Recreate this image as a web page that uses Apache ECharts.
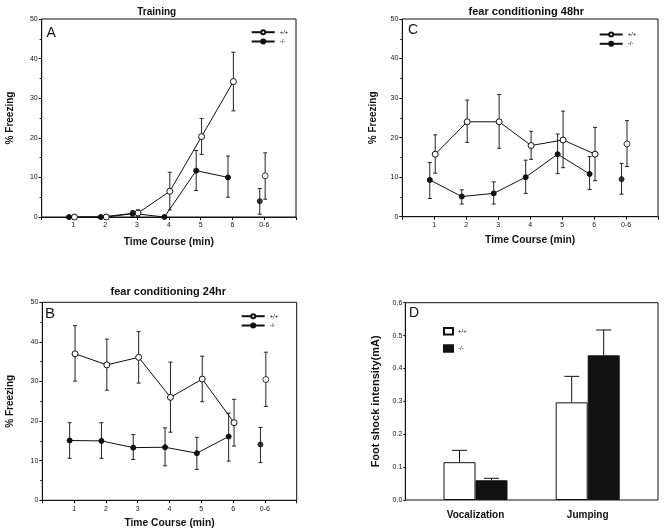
<!DOCTYPE html>
<html>
<head>
<meta charset="utf-8">
<script src="https://cdn.jsdelivr.net/npm/echarts@6/dist/echarts.min.js"></script>
<style>
html,body{margin:0;padding:0;background:#fff;}
#chart{width:666px;height:531px;}
</style>
</head>
<body>
<div id="chart"></div>
<script>
// ---------- DATA ----------
const timeCats = ['1', '2', '3', '4', '5', '6', '0-6'];

// Panel A: Training
const wtA   = [0, 0, 1.0, 6.5, 20.3, 34.2, 10.4];
const wtAhi = [0, 0, 1.8, 11.3, 24.9, 41.6, 16.2];
const wtAlo = [0, 0, 0.2, 1.8, 15.8, 26.8, 4.5];
const koA   = [0, 0, 0.9, 0, 11.7, 10.0, 4.0];
const koAhi = [0, 0, 1.6, 0, 16.8, 15.4, 7.2];
const koAlo = [0, 0, 0.2, 0, 6.7, 5.0, 0.7];

// Panel B: fear conditioning 24hr
const wtB   = [37.0, 34.2, 36.1, 26.0, 30.6, 19.6, 30.5];
const wtBhi = [44.1, 40.7, 42.6, 34.9, 36.4, 25.5, 37.4];
const wtBlo = [30.1, 27.8, 29.6, 17.2, 24.9, 13.7, 23.7];
const koB   = [15.1, 15.0, 13.3, 13.4, 11.9, 16.1, 14.1];
const koBhi = [19.6, 19.6, 16.6, 18.3, 15.9, 22.0, 18.4];
const koBlo = [10.6, 10.6, 10.3, 8.7, 7.8, 9.9, 9.5];

// Panel C: fear conditioning 48hr
const wtC   = [15.8, 24.0, 24.0, 18.0, 19.4, 15.8, 18.4];
const wtChi = [20.7, 29.5, 30.9, 21.6, 26.7, 22.6, 24.3];
const wtClo = [11.0, 18.8, 17.3, 14.5, 12.4, 9.1, 12.7];
const koC   = [9.3, 5.1, 5.9, 10.0, 15.8, 10.8, 9.5];
const koChi = [13.7, 6.8, 8.8, 14.3, 20.9, 15.2, 13.5];
const koClo = [4.6, 3.2, 3.2, 5.9, 10.9, 6.9, 5.7];

// Panel D: foot shock intensity
const shockCats = ['Vocalization', 'Jumping'];
const wtD   = [0.115, 0.297];
const wtDhi = [0.151, 0.376];
const koD   = [0.060, 0.440];
const koDhi = [0.066, 0.517];

const freezeTicks = [0, 10, 20, 30, 40, 50];
const shockTicks = [0, 0.1, 0.2, 0.3, 0.4, 0.5, 0.6];

// ---------- STYLE / LAYOUT ----------
const FONT = 'Liberation Sans, Arial, sans-serif';
const OFF_WT = 0.03, OFF_KO = -0.14;
const grids = [
  {left: 41.7, top: 19, width: 254.3, height: 198},     // A
  {left: 402.3, top: 19, width: 255.7, height: 197.7},  // C
  {left: 42.3, top: 302.3, width: 254.4, height: 198},  // B
  {left: 405.3, top: 302.7, width: 252.7, height: 197.3}, // D box
  {left: 419.4, top: 302.7, width: 224.4, height: 197.3}  // D bars
];
grids.forEach(g => { g.show = true; g.borderColor = '#111'; g.borderWidth = 1; g.backgroundColor = 'transparent'; });
grids[4].show = false;

function timeXAxis(gi, gap) {
  return {
    gridIndex: gi, type: 'value', min: 0, max: 8, interval: 1,
    name: 'Time Course (min)', nameLocation: 'middle', nameGap: gap,
    nameTextStyle: {fontFamily: FONT, fontWeight: 'bold', fontSize: 10.3, color: '#111'},
    axisLine: {show: true, lineStyle: {color: '#111'}},
    axisTick: {show: true, length: 3, lineStyle: {color: '#111'}},
    axisLabel: {fontFamily: FONT, fontSize: 7, color: '#111', margin: 5,
      formatter: v => (v >= 1 && v <= timeCats.length) ? timeCats[v - 1] : ''},
    splitLine: {show: false}
  };
}
function freezeYAxis(gi, gap) {
  return {
    gridIndex: gi, type: 'value', min: freezeTicks[0], max: freezeTicks[freezeTicks.length - 1], interval: 10,
    name: '% Freezing', nameLocation: 'middle', nameGap: gap, nameRotate: 90,
    nameTextStyle: {fontFamily: FONT, fontWeight: 'bold', fontSize: 10, color: '#111'},
    axisLine: {show: true, lineStyle: {color: '#111'}},
    axisTick: {show: true, length: 3, lineStyle: {color: '#111'}},
    minorTick: {show: true, splitNumber: 2, length: 2, lineStyle: {color: '#111'}},
    axisLabel: {fontFamily: FONT, fontSize: 7, color: '#111', margin: 4},
    splitLine: {show: false}
  };
}

function pts(vals, off, n) { return vals.slice(0, n).map((v, i) => [i + 1 + off, v]); }
function errData(lo, hi, off) { return lo.map((l, i) => [i + 1 + off, l, hi[i]]); }

function errRender(capHalf) {
  return function (params, api) {
    const x = api.value(0);
    const p1 = api.coord([x, api.value(1)]);
    const p2 = api.coord([x, api.value(2)]);
    const st = {stroke: '#222', lineWidth: 1};
    return {type: 'group', children: [
      {type: 'line', shape: {x1: p1[0], y1: p1[1], x2: p2[0], y2: p2[1]}, style: st},
      {type: 'line', shape: {x1: p1[0] - capHalf, y1: p1[1], x2: p1[0] + capHalf, y2: p1[1]}, style: st},
      {type: 'line', shape: {x1: p2[0] - capHalf, y1: p2[1], x2: p2[0] + capHalf, y2: p2[1]}, style: st}
    ]};
  };
}

const wtStyle = {color: '#fff', borderColor: '#111', borderWidth: 1};
const koStyle = {color: '#111', borderColor: '#111', borderWidth: 1};

function panelSeries(gi, wt, wtlo, wthi, ko, kolo, kohi) {
  const n = timeCats.length;
  return [
    {type: 'custom', name: 'errWT' + gi, xAxisIndex: gi, yAxisIndex: gi, renderItem: errRender(2), data: errData(wtlo, wthi, OFF_WT), z: 1, silent: true},
    {type: 'custom', name: 'errKO' + gi, xAxisIndex: gi, yAxisIndex: gi, renderItem: errRender(2), data: errData(kolo, kohi, OFF_KO), z: 1, silent: true},
    {type: 'line', name: 'wt', xAxisIndex: gi, yAxisIndex: gi, data: pts(wt, OFF_WT, n - 1),
      symbol: 'circle', symbolSize: 6, showAllSymbol: true, itemStyle: wtStyle, lineStyle: {color: '#111', width: 1}, z: 3, animation: false},
    {type: 'line', name: 'ko', xAxisIndex: gi, yAxisIndex: gi, data: pts(ko, OFF_KO, n - 1),
      symbol: 'circle', symbolSize: 5, showAllSymbol: true, itemStyle: koStyle, lineStyle: {color: '#111', width: 1}, z: 3, animation: false},
    {type: 'scatter', name: 'wt06_' + gi, xAxisIndex: gi, yAxisIndex: gi, data: [[n + OFF_WT, wt[n - 1]]],
      symbol: 'circle', symbolSize: 6, itemStyle: wtStyle, z: 3},
    {type: 'scatter', name: 'ko06_' + gi, xAxisIndex: gi, yAxisIndex: gi, data: [[n + OFF_KO, ko[n - 1]]],
      symbol: 'circle', symbolSize: 5, itemStyle: koStyle, z: 3}
  ];
}

function lineLegend(left, top) {
  return {
    data: ['wt', 'ko'], orient: 'vertical', left: left, top: top,
    itemWidth: 23, itemHeight: 5, itemGap: 3.3, padding: 0, selectedMode: false,
    textStyle: {fontFamily: FONT, fontSize: 6, color: '#111'},
    formatter: nm => nm === 'wt' ? '+/+' : '-/-'
  };
}

const series = [].concat(
  panelSeries(0, wtA, wtAlo, wtAhi, koA, koAlo, koAhi),
  panelSeries(1, wtC, wtClo, wtChi, koC, koClo, koChi),
  panelSeries(2, wtB, wtBlo, wtBhi, koB, koBlo, koBhi)
);

const BAR_W = 32;
series.push(
  {type: 'bar', name: 'wtBar', xAxisIndex: 4, yAxisIndex: 4, data: wtD, barWidth: BAR_W, barGap: '0%',
    itemStyle: {color: '#fff', borderColor: '#111', borderWidth: 1}, z: 2},
  {type: 'bar', name: 'koBar', xAxisIndex: 4, yAxisIndex: 4, data: koD, barWidth: BAR_W, barGap: '0%',
    itemStyle: {color: '#111', borderColor: '#111', borderWidth: 1}, z: 2},
  {type: 'custom', name: 'errBar', xAxisIndex: 4, yAxisIndex: 4, z: 1, silent: true,
    data: shockCats.flatMap((c, i) => [[i, wtD[i], wtDhi[i], -1], [i, koD[i], koDhi[i], 1]]),
    renderItem: function (params, api) {
      const side = api.value(3);
      const p1 = api.coord([api.value(0), api.value(1)]);
      const p2 = api.coord([api.value(0), api.value(2)]);
      const x = p1[0] + side * BAR_W / 2;
      const st = {stroke: '#111', lineWidth: 1};
      return {type: 'group', children: [
        {type: 'line', shape: {x1: x, y1: p1[1], x2: x, y2: p2[1]}, style: st},
        {type: 'line', shape: {x1: x - 7.5, y1: p2[1], x2: x + 7.5, y2: p2[1]}, style: st}
      ]};
    }}
);

const option = {
  backgroundColor: '#fff',
  animation: false,
  grid: grids,
  xAxis: [
    timeXAxis(0, 20),
    timeXAxis(1, 18),
    timeXAxis(2, 17.5),
    {gridIndex: 3, type: 'value', min: 0, max: 1, show: false},
    {gridIndex: 4, type: 'category', data: shockCats,
      axisLine: {show: false}, axisTick: {show: false},
      axisLabel: {fontFamily: FONT, fontWeight: 'bold', fontSize: 10, color: '#111', margin: 10}}
  ],
  yAxis: [
    freezeYAxis(0, 26),
    freezeYAxis(1, 24),
    freezeYAxis(2, 27),
    {gridIndex: 3, type: 'value', min: 0, max: 0.6, interval: 0.1,
      name: 'Foot shock intensity(mA)', nameLocation: 'middle', nameGap: 24, nameRotate: 90,
      nameTextStyle: {fontFamily: FONT, fontWeight: 'bold', fontSize: 11, color: '#111'},
      axisLine: {show: true, lineStyle: {color: '#111'}},
      axisTick: {show: true, length: 2, lineStyle: {color: '#111'}},
      axisLabel: {fontFamily: FONT, fontSize: 7, color: '#111', margin: 3, formatter: v => v.toFixed(1)},
      splitLine: {show: false}},
    {gridIndex: 4, type: 'value', min: 0, max: 0.6, show: false}
  ],
  legend: [
    lineLegend(250.7, 29.2),
    lineLegend(598.7, 31.5),
    lineLegend(240.7, 313.2),
    {data: [{name: 'wtBar', icon: 'rect'}, {name: 'koBar', icon: 'rect'}], orient: 'vertical', left: 443, top: 327, padding: 0,
      itemWidth: 9, itemHeight: 6.5, itemGap: 8.7, selectedMode: false,
      textStyle: {fontFamily: FONT, fontSize: 6, color: '#111'},
      formatter: nm => nm === 'wtBar' ? '+/+' : '-/-'}
  ],
  graphic: [
    {type: 'text', x: 156.7, y: 12.3, style: {text: 'Training', font: 'bold 10px ' + FONT, fill: '#111', textAlign: 'center', textVerticalAlign: 'middle'}},
    {type: 'text', x: 526.3, y: 11.7, style: {text: 'fear conditioning 48hr', font: 'bold 11px ' + FONT, fill: '#111', textAlign: 'center', textVerticalAlign: 'middle'}},
    {type: 'text', x: 168.3, y: 291.7, style: {text: 'fear conditioning 24hr', font: 'bold 11px ' + FONT, fill: '#111', textAlign: 'center', textVerticalAlign: 'middle'}},
    {type: 'text', x: 46.5, y: 33, style: {text: 'A', font: '14px ' + FONT, fill: '#111', textVerticalAlign: 'middle'}},
    {type: 'text', x: 408, y: 30, style: {text: 'C', font: '14px ' + FONT, fill: '#111', textVerticalAlign: 'middle'}},
    {type: 'text', x: 45, y: 314, style: {text: 'B', font: '15px ' + FONT, fill: '#111', textVerticalAlign: 'middle'}},
    {type: 'text', x: 409, y: 313, style: {text: 'D', font: '14px ' + FONT, fill: '#111', textVerticalAlign: 'middle'}}
  ],
  series: series
};

const chart = echarts.init(document.getElementById('chart'), null, {renderer: 'canvas'});
chart.setOption(option);
</script>
</body>
</html>
